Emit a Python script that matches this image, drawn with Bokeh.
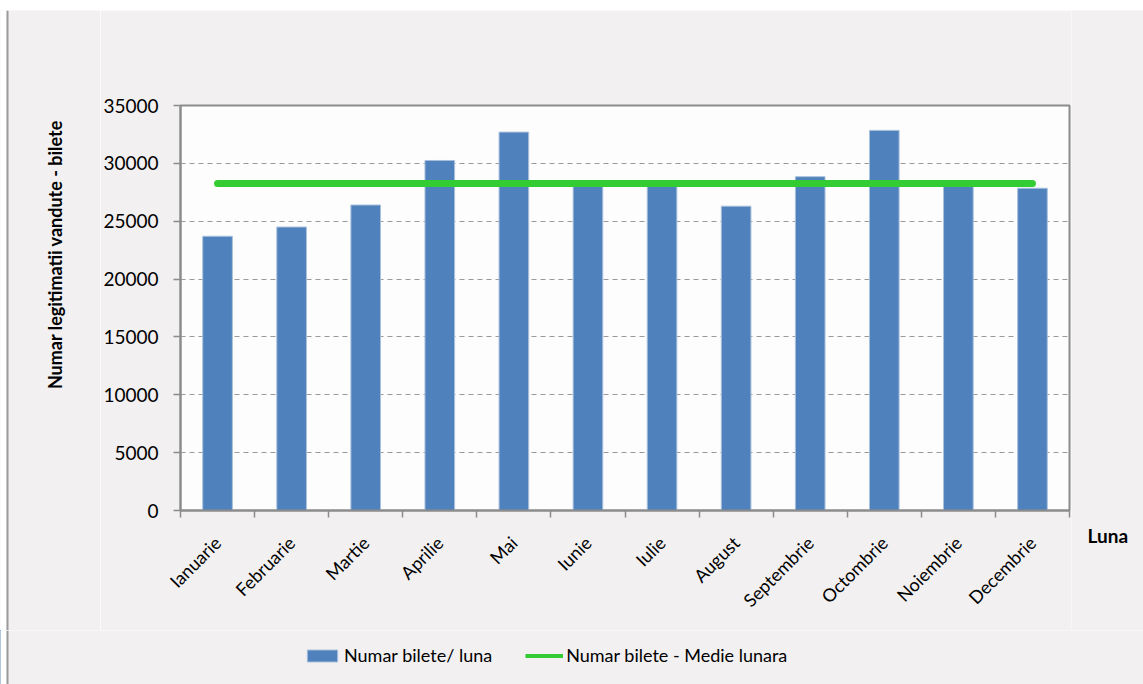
import math
from bokeh.plotting import figure
from bokeh.layouts import column, row
from bokeh.models import (FixedTicker, Range1d, Legend, LegendItem, Label,
                          BoxAnnotation, ColumnDataSource)
from bokeh.embed import file_html
from bokeh.resources import INLINE

luni = ["Ianuarie", "Februarie", "Martie", "Aprilie", "Mai", "Iunie",
        "Iulie", "August", "Septembrie", "Octombrie", "Noiembrie", "Decembrie"]
bilete = [23700, 24500, 26400, 30250, 32700, 28200,
          28200, 26300, 28850, 32850, 28200, 27850]
medie = [28250, 28250, 28250, 28250, 28250, 28250,
         28250, 28250, 28250, 28250, 28250, 28250]
y_ticks = [0, 5000, 10000, 15000, 20000, 25000, 30000, 35000]

FONT = "Lato"
BG = "#f2f0f1"
EDGE = "#9a9a9a"
BAR_FILL = "#4f81bd"
BAR_LINE = "#a9c0dc"
GREEN = "#33cc33"

pozitii = [i + 0.5 for i in range(len(luni))]
limite = list(range(len(luni) + 1))

src = ColumnDataSource(data=dict(x=pozitii, luna=luni, bilete=bilete, medie=medie))


def blank(w, h, xr, yr):
    f = figure(width=w, height=h, output_backend="svg", toolbar_location=None,
               x_range=Range1d(*xr), y_range=Range1d(*yr),
               x_axis_type=None, y_axis_type=None,
               min_border=0, min_border_left=0, min_border_right=0,
               min_border_top=0, min_border_bottom=0)
    f.frame_align = False
    f.background_fill_color = BG
    f.border_fill_color = BG
    f.outline_line_color = None
    f.xgrid.visible = False
    f.ygrid.visible = False
    return f


# ---- top strip (outer frame edge) ----
top = blank(1143, 10, (0, 1143), (10, 0))
top.background_fill_color = "#ffffff"
top.border_fill_color = "#ffffff"
top.add_layout(BoxAnnotation(left=6, right=1143, top=8, bottom=10,
                             fill_color=EDGE, fill_alpha=1, line_color=None))

# ---- left strip with y-axis title ----
left = blank(100, 620, (0, 100), (630, 10))
left.add_layout(BoxAnnotation(left=0, right=6, fill_color="#ffffff", fill_alpha=1,
                              line_color=None))
left.add_layout(BoxAnnotation(left=6, right=8, fill_color=EDGE, fill_alpha=1,
                              line_color=None))
left.add_layout(Label(x=54, y=254, text="Numar legitimatii vandute - bilete",
                      angle=math.pi / 2, text_align="center", text_baseline="middle",
                      text_font=FONT, text_font_style="bold",
                      text_font_size="18px", text_color="#000000"))

# ---- main chart ----
p = figure(width=971, height=620, output_backend="svg", toolbar_location=None,
           x_range=Range1d(0, len(luni)), y_range=Range1d(0, 35000),
           min_border_left=75, min_border_right=2,
           min_border_top=95, min_border_bottom=120)
p.frame_align = False
p.background_fill_color = "#fdfdfd"
p.border_fill_color = BG
p.outline_line_color = "#8c8c8c"
p.outline_line_width = 2

bars = p.vbar(x="x", top="bilete", width=0.4, source=src,
              fill_color=BAR_FILL, line_color=BAR_LINE, line_width=1)
line = p.line(x="x", y="medie", source=src, line_color=GREEN,
              line_width=7, line_cap="round")

p.xgrid.grid_line_color = None
p.ygrid.grid_line_color = "#9a9a9a"
p.ygrid.grid_line_dash = "5 4"
p.ygrid.grid_line_width = 1.2
p.ygrid.ticker = FixedTicker(ticks=y_ticks)

ya = p.yaxis[0]
ya.ticker = FixedTicker(ticks=y_ticks, minor_ticks=[])
ya.axis_line_color = "#8c8c8c"
ya.axis_line_width = 2
ya.major_tick_line_color = "#8c8c8c"
ya.major_tick_line_width = 1.5
ya.major_tick_out = 7
ya.major_tick_in = 0
ya.major_label_text_font = FONT
ya.major_label_text_font_size = "19px"
ya.major_label_text_color = "#000000"
ya.major_label_standoff = 15

xa = p.xaxis[0]
xa.ticker = FixedTicker(ticks=pozitii, minor_ticks=limite)
xa.major_label_overrides = {pz: l for pz, l in zip(pozitii, luni)}
xa.major_label_orientation = math.pi / 4
xa.major_tick_line_color = None
xa.minor_tick_line_color = "#8c8c8c"
xa.minor_tick_line_width = 1.5
xa.minor_tick_out = 7
xa.minor_tick_in = 0
xa.axis_line_color = "#8c8c8c"
xa.axis_line_width = 2
xa.major_label_text_font = FONT
xa.major_label_text_font_size = "18px"
xa.major_label_text_color = "#000000"
xa.major_label_standoff = 22

# ---- right strip with x-axis title ----
right = blank(72, 620, (1071, 1143), (630, 10))
right.add_layout(Label(x=1087, y=535, text="Luna", text_align="left",
                       text_baseline="middle", text_font=FONT,
                       text_font_style="bold", text_font_size="19px",
                       text_color="#000000"))

# ---- bottom strip with legend (proxy renderers share the data, drawn off-view) ----
bottom = blank(1143, 54, (1000, 2143), (684, 630))
bottom.add_layout(BoxAnnotation(left=1000, right=1006, fill_color="#ffffff", fill_alpha=1,
                                line_color=None))
bottom.add_layout(BoxAnnotation(left=1006, right=1008, fill_color=EDGE, fill_alpha=1,
                                line_color=None))
lg_bar = bottom.vbar(x="x", top="bilete", width=0.4, source=src,
                     fill_color=BAR_FILL, line_color=BAR_LINE)
lg_line = bottom.line(x="x", y="medie", source=src, line_color=GREEN, line_width=4)
legend = Legend(items=[LegendItem(label="Numar bilete/ luna", renderers=[lg_bar]),
                       LegendItem(label="Numar bilete - Medie lunara", renderers=[lg_line])],
                orientation="horizontal", location=(303, 18),
                background_fill_alpha=0, border_line_color=None,
                glyph_width=38, glyph_height=15, label_standoff=3,
                spacing=33, padding=0, margin=0,
                label_text_font=FONT, label_text_font_size="18px",
                label_text_color="#000000")
bottom.add_layout(legend, "center")

layout = column(top, row(left, p, right), bottom)
open("out.html", "w").write(file_html(layout, INLINE))
